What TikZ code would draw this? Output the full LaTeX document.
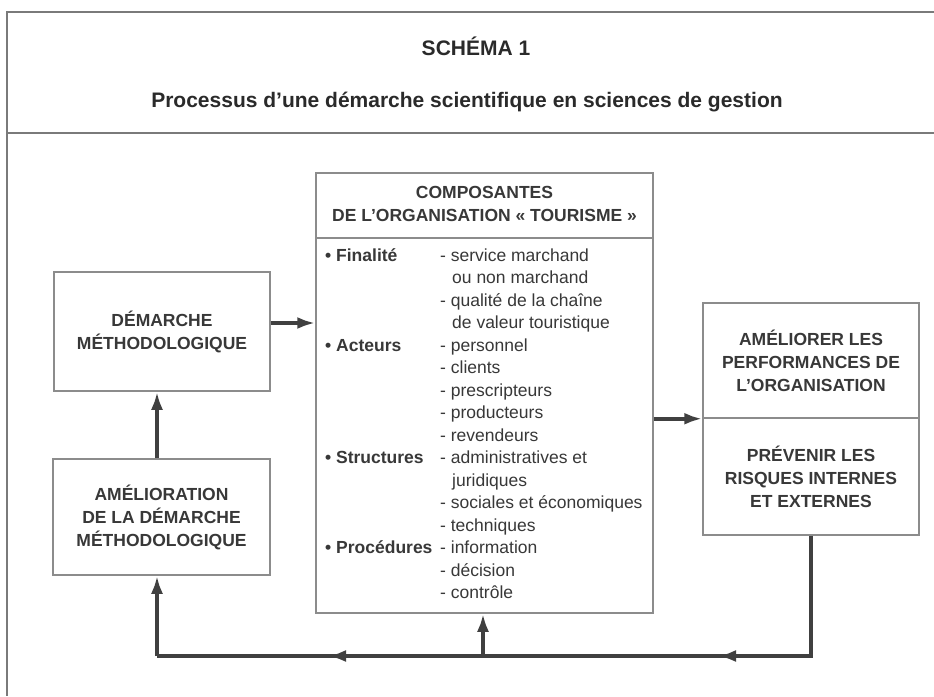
\documentclass[tikz,border=0pt]{standalone}
\usepackage{fontspec}
\setmainfont{Liberation Sans}
\usetikzlibrary{arrows.meta}
\definecolor{txt}{HTML}{383838}
\definecolor{ttl}{HTML}{2a2a2a}
\definecolor{frm}{HTML}{7a7a7a}
\definecolor{bx}{HTML}{8c8c8c}
\definecolor{arr}{HTML}{404040}
\begin{document}
\begin{tikzpicture}[x=1pt,y=-1pt,
  every node/.style={text=txt, inner sep=0pt},
  bodyfont/.style={font=\fontsize{17.5}{23}\selectfont},
  boldfont/.style={font=\fontsize{17.5}{23}\selectfont\bfseries},
  titlefont/.style={font=\fontsize{21}{25}\selectfont\bfseries, text=ttl},
  framebox/.style={draw=bx, line width=1.5pt},
  box/.style={framebox, boldfont, align=center},
  frameline/.style={draw=frm, line width=2pt},
  arrowline/.style={draw=arr, line width=4pt, -{Latex[length=18pt,width=12pt]}},
  plainline/.style={draw=arr, line width=4pt},
  item/.style={bodyfont, anchor=base west},
  lab/.style={boldfont, anchor=base west}
]
\useasboundingbox (0,0) rectangle (934,696);
\fill[white] (0,0) rectangle (934,696);

% outer frame
\coordinate (frTR) at (934,12);
\coordinate (frBL) at (7,696);
\coordinate (dvL) at (7,133);
\coordinate (dvR) at (934,133);
\draw[frameline] (frTR) -| (frBL);
\draw[frameline] (dvL) -- (dvR);

% titles
\node[titlefont, anchor=base] (t1) at (476,55) {SCHÉMA 1};
\node[titlefont, anchor=base] (t2) at (467,107) {Processus d'une démarche scientifique en sciences de gestion};

% left boxes
\node[box, minimum width=216pt, minimum height=119pt] (dem) at (162,331.5) {DÉMARCHE\\MÉTHODOLOGIQUE};
\node[box, minimum width=217pt, minimum height=116pt] (amel) at (161.5,517) {AMÉLIORATION\\DE LA DÉMARCHE\\MÉTHODOLOGIQUE};

% right boxes
\node[box, minimum width=216pt, minimum height=115pt] (perf) at (811,360.5) {AMÉLIORER LES\\PERFORMANCES DE\\L'ORGANISATION};
\node[box, minimum width=216pt, minimum height=117pt] (risk) at (811,476.5) {PRÉVENIR LES\\RISQUES INTERNES\\ET EXTERNES};

% central box
\node[framebox, minimum width=337pt, minimum height=440pt] (comp) at (484.5,393) {};
\coordinate (cdL) at (316,238);
\coordinate (cdR) at (653,238);
\draw[framebox] (cdL) -- (cdR);
\node[boldfont, align=center] (comph) at (484.5,204) {COMPOSANTES\\DE L'ORGANISATION «~TOURISME~»};

\node[lab] (b1) at (325,261) {• Finalité};
\node[item] (l0) at (440,261) {- service marchand};
\node[item] (l1) at (452,283.5) {ou non marchand};
\node[item] (l2) at (440,306) {- qualité de la chaîne};
\node[item] (l3) at (452,328.5) {de valeur touristique};
\node[lab] (b2) at (325,351) {• Acteurs};
\node[item] (l4) at (440,351) {- personnel};
\node[item] (l5) at (440,373.5) {- clients};
\node[item] (l6) at (440,396) {- prescripteurs};
\node[item] (l7) at (440,418.5) {- producteurs};
\node[item] (l8) at (440,441) {- revendeurs};
\node[lab] (b3) at (325,463.5) {• Structures};
\node[item] (l9) at (440,463.5) {- administratives et};
\node[item] (l10) at (452,486) {juridiques};
\node[item] (l11) at (440,508.5) {- sociales et économiques};
\node[item] (l12) at (440,531) {- techniques};
\node[lab] (b4) at (325,553.5) {• Procédures};
\node[item] (l13) at (440,553.5) {- information};
\node[item] (l14) at (440,576) {- décision};
\node[item] (l15) at (440,598.5) {- contrôle};

% arrows
\draw[arrowline] (dem.east |- 0,323) -- (comp.west |- 0,323);
\draw[arrowline] (amel.north -| 157,0) -- (dem.south -| 157,0);
\draw[arrowline] (comp.east |- perf.south) -- (perf.south west);

% feedback loop
\coordinate (fbR) at (811,656);
\coordinate (fbM) at (483,656);
\coordinate (fbL) at (157,656);
\coordinate (fbA1) at (718,656);
\coordinate (fbA2) at (328,656);
\draw[plainline] (risk.south) -- (fbR) -- (fbL);
\draw[arrowline] (fbR) -- (fbA1);
\draw[arrowline] (fbM) -- (fbA2);
\draw[arrowline] (fbL) -- (amel.south -| fbL);
\draw[arrowline] (fbM) -- (comp.south -| fbM);
\end{tikzpicture}
\end{document}
